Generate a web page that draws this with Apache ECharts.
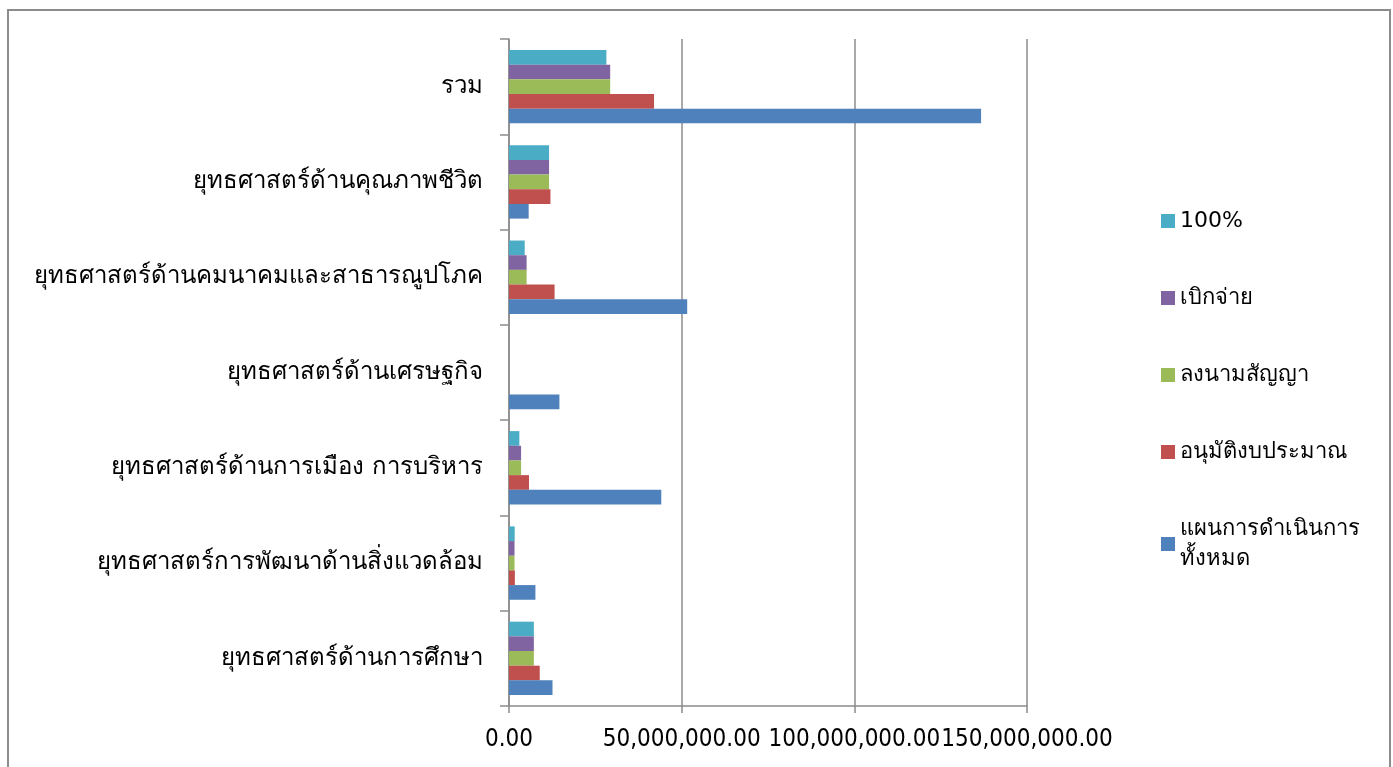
<!DOCTYPE html>
<html>
<head>
<meta charset="utf-8">
<script src="https://cdn.jsdelivr.net/npm/echarts@6/dist/echarts.min.js"></script>
<style>
  html, body { margin: 0; padding: 0; background: #fff; }
  #frame { position: absolute; left: 7px; top: 9px; width: 1384px; height: 780px; border: 2px solid #8c8c8c; box-sizing: border-box; }
  #chart { position: absolute; left: 0; top: 0; width: 1393px; height: 767px; }
</style>
</head>
<body>
<div id="frame"></div>
<div id="chart"></div>
<script>
// categories, bottom to top
const categories = [
  'ยุทธศาสตร์ด้านการศึกษา',
  'ยุทธศาสตร์การพัฒนาด้านสิ่งแวดล้อม',
  'ยุทธศาสตร์ด้านการเมือง การบริหาร',
  'ยุทธศาสตร์ด้านเศรษฐกิจ',
  'ยุทธศาสตร์ด้านคมนาคมและสาธารณูปโภค',
  'ยุทธศาสตร์ด้านคุณภาพชีวิต',
  'รวม'
];
const seriesNames = ['แผนการดำเนินการทั้งหมด', 'อนุมัติงบประมาณ', 'ลงนามสัญญา', 'เบิกจ่าย', '100%'];
const planAll   = [12600000, 7650000, 44100000, 14600000, 51600000, 5700000, 136700000];
const approved  = [8900000, 1700000, 5800000, 0, 13200000, 12000000, 42000000];
const contract  = [7200000, 1600000, 3500000, 0, 5100000, 11600000, 29300000];
const disbursed = [7200000, 1600000, 3500000, 0, 5100000, 11600000, 29300000];
const full100   = [7200000, 1650000, 3000000, 0, 4550000, 11600000, 28200000];
const xTicks = [0, 50000000, 100000000, 150000000];

const colors = ['#4F81BD', '#C0504D', '#9BBB59', '#8064A2', '#4BACC6'];
const values = [planAll, approved, contract, disbursed, full100];
const font = 'Tahoma, "DejaVu Sans", "Noto Sans", sans-serif';

function fmt(v) {
  return v.toLocaleString('en-US', { minimumFractionDigits: 2, maximumFractionDigits: 2 });
}

// ECharts stacks horizontal bars top-down in series order, so add them reversed
const order = [4, 3, 2, 1, 0];

const chart = echarts.init(document.getElementById('chart'));
chart.setOption({
  animation: false,
  grid: { left: 509, right: 366, top: 39, bottom: 61, containLabel: false },
  legend: {
    orient: 'vertical',
    left: 1156,
    top: 201,
    itemWidth: 14,
    itemHeight: 14,
    itemGap: 47,
    icon: 'rect',
    data: seriesNames.slice().reverse(),
    formatter: function (n) {
      return n === 'แผนการดำเนินการทั้งหมด' ? 'แผนการดำเนินการ\nทั้งหมด' : n;
    },
    textStyle: { fontFamily: font, fontSize: 22, color: '#000', lineHeight: 30 }
  },
  xAxis: {
    type: 'value',
    min: 0,
    max: xTicks[xTicks.length - 1],
    interval: 50000000,
    axisLine: { show: true, lineStyle: { color: '#8c8c8c', width: 1.5 } },
    axisTick: { show: true, length: 7, lineStyle: { color: '#8c8c8c', width: 1.5 } },
    splitLine: { show: true, lineStyle: { color: '#8c8c8c', width: 1.5 } },
    axisLabel: {
      formatter: fmt,
      fontFamily: '"DejaVu Sans Condensed", "DejaVu Sans", sans-serif',
      fontSize: 24,
      color: '#000',
      margin: 22,
      interval: 0,
      showMaxLabel: true,
      showMinLabel: true,
      hideOverlap: false
    }
  },
  yAxis: {
    type: 'category',
    data: categories,
    axisLine: { show: true, lineStyle: { color: '#8c8c8c', width: 1.5 } },
    axisTick: { show: true, length: 9, lineStyle: { color: '#8c8c8c', width: 1.5 } },
    axisLabel: { fontFamily: font, fontSize: 24, color: '#000', margin: 26 }
  },
  series: order.map(function (i) {
    return {
      name: seriesNames[i],
      type: 'bar',
      data: values[i],
      barGap: '0%',
      barCategoryGap: '23%',
      itemStyle: { color: colors[i] }
    };
  })
});
</script>
</body>
</html>
